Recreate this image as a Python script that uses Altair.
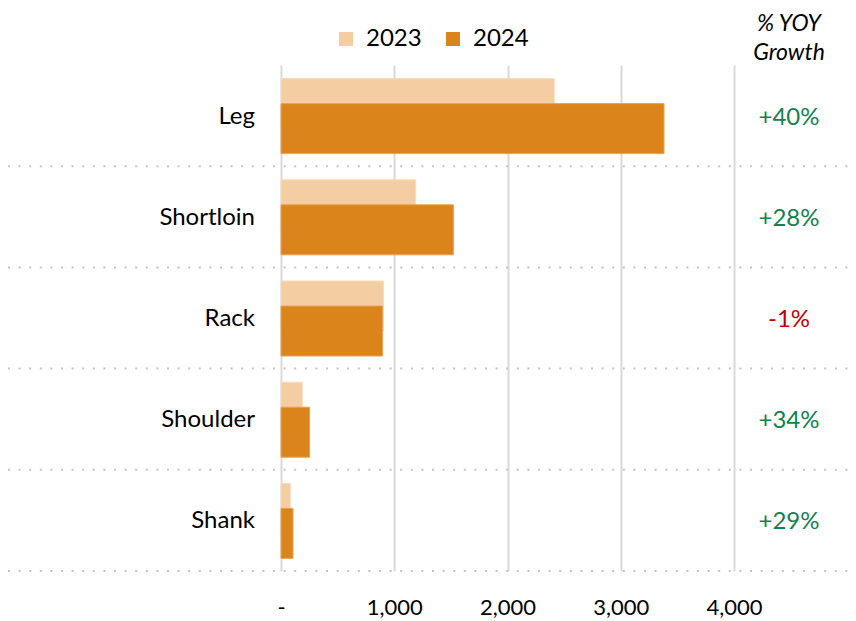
import altair as alt
import pandas as pd

categories = ["Leg", "Shortloin", "Rack", "Shoulder", "Shank"]
v2023 = [2413, 1189, 905, 188, 82]
v2024 = [3382, 1522, 897, 252, 106]
growth = ["+40%", "+28%", "-1%", "+34%", "+29%"]
years = ["2023", "2024"]
tick_values = [0, 1000, 2000, 3000, 4000]
title_lines = ["% YOY", "Growth"]

C23 = "#F4CDA2"
C24 = "#DB841B"
GREEN = "#13804F"
RED = "#C00000"
FONT = "Lato"

W, H = 840, 506

rows = []
for c, a, b in zip(categories, v2023, v2024):
    rows.append({"cat": c, "year": years[0], "value": a})
    rows.append({"cat": c, "year": years[1], "value": b})
long_df = pd.DataFrame(rows)
cat_df = pd.DataFrame({"cat": categories, "growth": growth})
title_df = pd.DataFrame({"t": title_lines})

xscale = alt.Scale(domain=[-2410.6, 5006.6], nice=False, zero=False)
yscale = alt.Scale(domain=categories, paddingInner=0, paddingOuter=0)
color = alt.Color(
    "year:N",
    scale=alt.Scale(domain=years, range=[C23, C24]),
    legend=alt.Legend(
        title=None, orient="none", direction="horizontal",
        legendX=326, legendY=-38,
        symbolType="square", symbolSize=196, symbolStrokeWidth=0,
        labelFontSize=24, labelFont=FONT, labelColor="#000000",
        labelOffset=8, columnPadding=19,
    ),
)

xaxis = alt.Axis(
    values=tick_values,
    labelExpr="datum.value == 0 ? '-' : format(datum.value, ',')",
    grid=True, gridColor="#D9D9D9", gridWidth=2,
    domain=False, ticks=False, title=None,
    labelFontSize=22, labelFont=FONT, labelColor="#000000", labelPadding=26,
)

base = alt.Chart(long_df)

bars23 = base.transform_filter(alt.datum.year == years[0]).mark_bar(
    height=50, yOffset=-12, stroke="#F8DCBB", strokeWidth=1
).encode(
    x=alt.X("value:Q", scale=xscale, axis=xaxis),
    x2=alt.datum(0),
    y=alt.Y("cat:N", scale=yscale, axis=None),
    color=color,
)

bars24 = base.transform_filter(alt.datum.year == years[1]).mark_bar(
    height=50, yOffset=13, stroke="#E9A257", strokeWidth=1
).encode(
    x=alt.X("value:Q", scale=xscale, axis=xaxis),
    x2=alt.datum(0),
    y=alt.Y("cat:N", scale=yscale, axis=None),
    color=color,
)

seps = alt.Chart(cat_df).mark_rule(
    yOffset=H / 10, strokeDash=[2, 8.6], color="#C4C4C4", strokeWidth=2
).encode(
    y=alt.Y("cat:N", scale=yscale, axis=None),
    x=alt.value(0),
    x2=alt.value(W),
)

cat_labels = alt.Chart(cat_df).mark_text(
    align="right", baseline="middle", fontSize=24, font=FONT, color="#000000", dy=1
).encode(
    y=alt.Y("cat:N", scale=yscale, axis=None),
    x=alt.value(247),
    text="cat:N",
)

growth_labels = alt.Chart(cat_df).mark_text(
    align="center", baseline="middle", fontSize=24, font=FONT, dy=2
).encode(
    y=alt.Y("cat:N", scale=yscale, axis=None),
    x=alt.value(781),
    text="growth:N",
    color=alt.condition("indexof(datum.growth, '-') == 0", alt.value(RED), alt.value(GREEN)),
)

title_style = dict(align="center", baseline="alphabetic", fontSize=23, font=FONT,
                   fontStyle="italic", color="#000000")
title1 = alt.Chart(title_df).transform_filter(alt.datum.t == title_lines[0]).mark_text(
    **title_style
).encode(x=alt.value(781), y=alt.value(-34), text="t:N")
title2 = alt.Chart(title_df).transform_filter(alt.datum.t == title_lines[1]).mark_text(
    **title_style
).encode(x=alt.value(781), y=alt.value(-5), text="t:N")

chart = alt.layer(
    seps, bars23, bars24, cat_labels, growth_labels, title1, title2
).properties(
    width=W, height=H,
    autosize=alt.AutoSizeParams(type="none"),
    padding={"left": 0, "top": 57, "right": 0, "bottom": 48},
).configure(
    font=FONT,
    view=alt.ViewConfig(stroke="transparent", strokeWidth=0),
)

chart.save("out.html", embed_options={"renderer": "svg", "actions": False})
